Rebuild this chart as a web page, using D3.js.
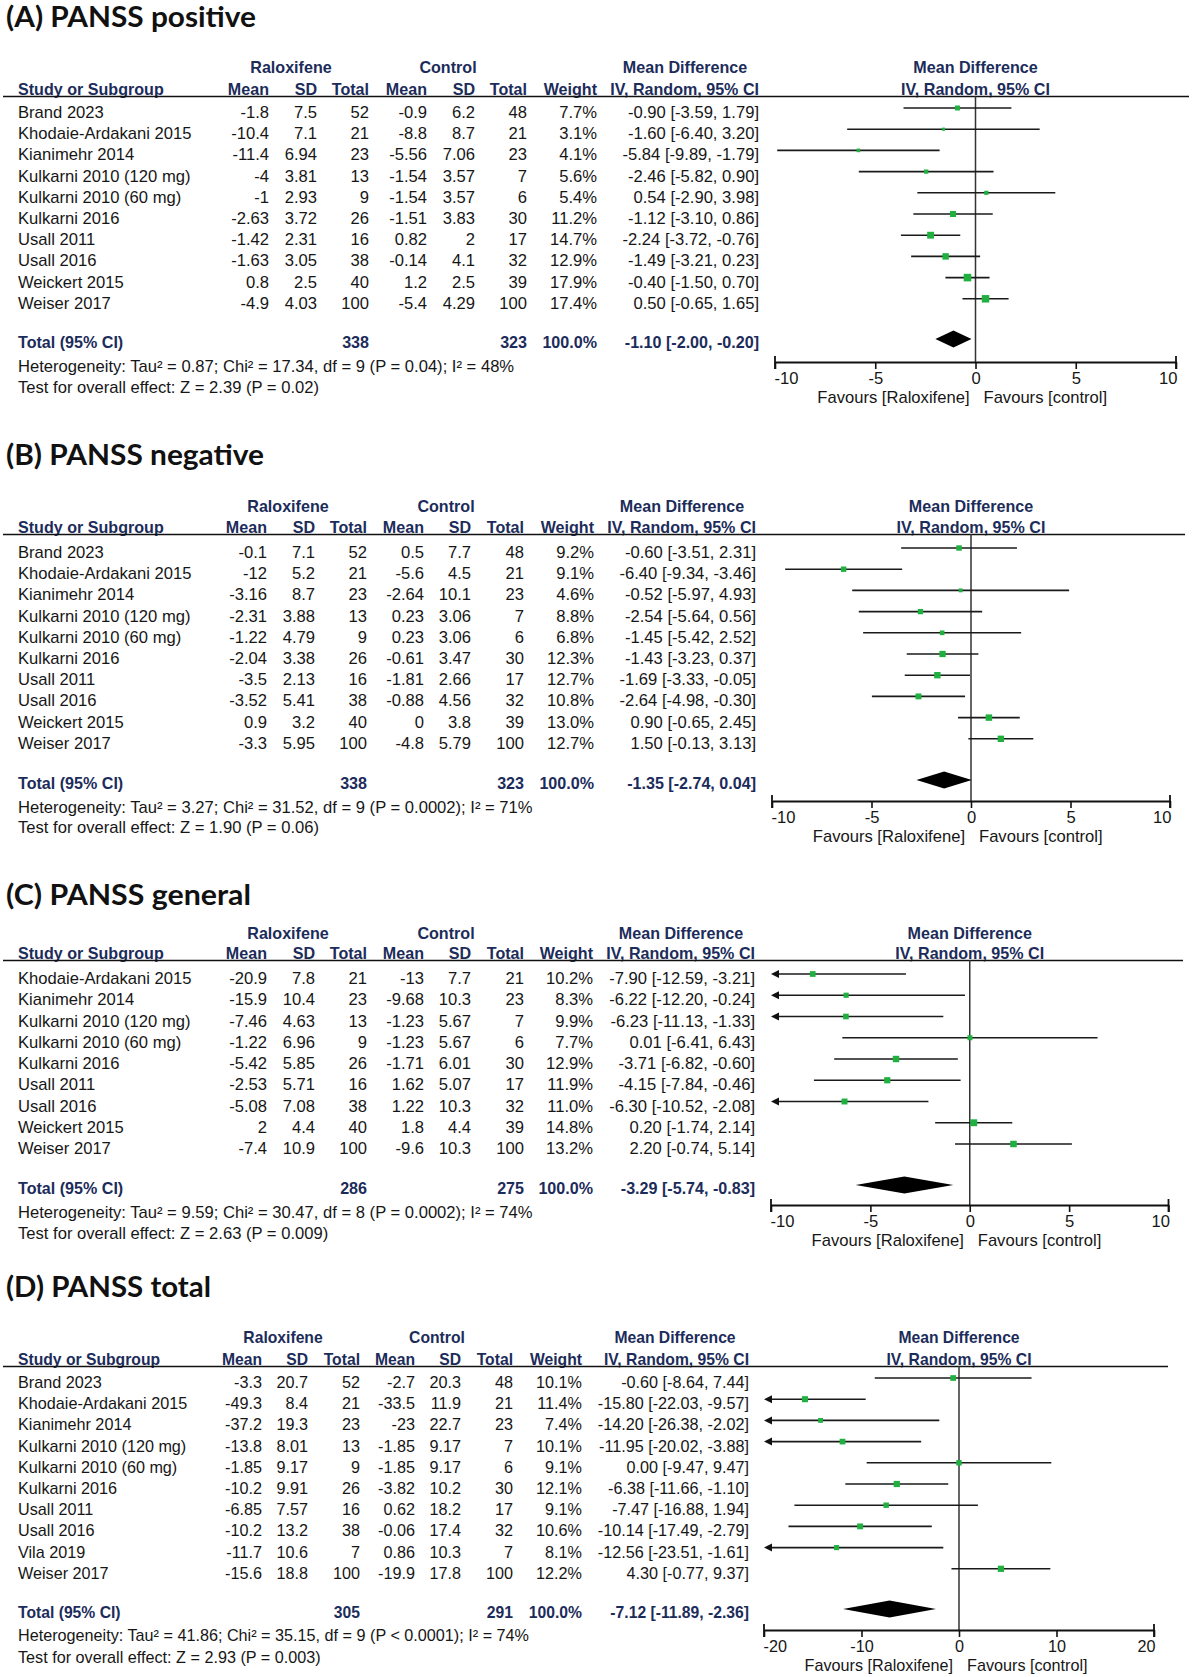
<!DOCTYPE html>
<html><head><meta charset="utf-8">
<script src="https://cdn.jsdelivr.net/npm/d3@7"></script>
<style>
html,body{margin:0;padding:0;background:#fff;}
svg{display:block;}
</style>
</head><body>
<div id="chart"></div>
<script>
// ---------------- DATA ----------------
// (A) PANSS positive
const posStudies = ["Brand 2023","Khodaie-Ardakani 2015","Kianimehr 2014","Kulkarni 2010 (120 mg)","Kulkarni 2010 (60 mg)","Kulkarni 2016","Usall 2011","Usall 2016","Weickert 2015","Weiser 2017"];
const posRalMean = [-1.8,-10.4,-11.4,-4,-1,-2.63,-1.42,-1.63,0.8,-4.9];
const posRalSD   = [7.5,7.1,6.94,3.81,2.93,3.72,2.31,3.05,2.5,4.03];
const posRalN    = [52,21,23,13,9,26,16,38,40,100];
const posCtlMean = [-0.9,-8.8,-5.56,-1.54,-1.54,-1.51,0.82,-0.14,1.2,-5.4];
const posCtlSD   = [6.2,8.7,7.06,3.57,3.57,3.83,2,4.1,2.5,4.29];
const posCtlN    = [48,21,23,7,6,30,17,32,39,100];
const posWeight  = [7.7,3.1,4.1,5.6,5.4,11.2,14.7,12.9,17.9,17.4];
const posMD      = [-0.90,-1.60,-5.84,-2.46,0.54,-1.12,-2.24,-1.49,-0.40,0.50];
const posLo      = [-3.59,-6.40,-9.89,-5.82,-2.90,-3.10,-3.72,-3.21,-1.50,-0.65];
const posHi      = [1.79,3.20,-1.79,0.90,3.98,0.86,-0.76,0.23,0.70,1.65];
const posTotal   = {ralN:338, ctlN:323, md:-1.10, lo:-2.00, hi:-0.20};
const posHet     = "Heterogeneity: Tau\u00b2 = 0.87; Chi\u00b2 = 17.34, df = 9 (P = 0.04); I\u00b2 = 48%";
const posTest    = "Test for overall effect: Z = 2.39 (P = 0.02)";

// (B) PANSS negative
const negStudies = ["Brand 2023","Khodaie-Ardakani 2015","Kianimehr 2014","Kulkarni 2010 (120 mg)","Kulkarni 2010 (60 mg)","Kulkarni 2016","Usall 2011","Usall 2016","Weickert 2015","Weiser 2017"];
const negRalMean = [-0.1,-12,-3.16,-2.31,-1.22,-2.04,-3.5,-3.52,0.9,-3.3];
const negRalSD   = [7.1,5.2,8.7,3.88,4.79,3.38,2.13,5.41,3.2,5.95];
const negRalN    = [52,21,23,13,9,26,16,38,40,100];
const negCtlMean = [0.5,-5.6,-2.64,0.23,0.23,-0.61,-1.81,-0.88,0,-4.8];
const negCtlSD   = [7.7,4.5,10.1,3.06,3.06,3.47,2.66,4.56,3.8,5.79];
const negCtlN    = [48,21,23,7,6,30,17,32,39,100];
const negWeight  = [9.2,9.1,4.6,8.8,6.8,12.3,12.7,10.8,13.0,12.7];
const negMD      = [-0.60,-6.40,-0.52,-2.54,-1.45,-1.43,-1.69,-2.64,0.90,1.50];
const negLo      = [-3.51,-9.34,-5.97,-5.64,-5.42,-3.23,-3.33,-4.98,-0.65,-0.13];
const negHi      = [2.31,-3.46,4.93,0.56,2.52,0.37,-0.05,-0.30,2.45,3.13];
const negTotal   = {ralN:338, ctlN:323, md:-1.35, lo:-2.74, hi:0.04};
const negHet     = "Heterogeneity: Tau\u00b2 = 3.27; Chi\u00b2 = 31.52, df = 9 (P = 0.0002); I\u00b2 = 71%";
const negTest    = "Test for overall effect: Z = 1.90 (P = 0.06)";

// (C) PANSS general
const genStudies = ["Khodaie-Ardakani 2015","Kianimehr 2014","Kulkarni 2010 (120 mg)","Kulkarni 2010 (60 mg)","Kulkarni 2016","Usall 2011","Usall 2016","Weickert 2015","Weiser 2017"];
const genRalMean = [-20.9,-15.9,-7.46,-1.22,-5.42,-2.53,-5.08,2,-7.4];
const genRalSD   = [7.8,10.4,4.63,6.96,5.85,5.71,7.08,4.4,10.9];
const genRalN    = [21,23,13,9,26,16,38,40,100];
const genCtlMean = [-13,-9.68,-1.23,-1.23,-1.71,1.62,1.22,1.8,-9.6];
const genCtlSD   = [7.7,10.3,5.67,5.67,6.01,5.07,10.3,4.4,10.3];
const genCtlN    = [21,23,7,6,30,17,32,39,100];
const genWeight  = [10.2,8.3,9.9,7.7,12.9,11.9,11.0,14.8,13.2];
const genMD      = [-7.90,-6.22,-6.23,0.01,-3.71,-4.15,-6.30,0.20,2.20];
const genLo      = [-12.59,-12.20,-11.13,-6.41,-6.82,-7.84,-10.52,-1.74,-0.74];
const genHi      = [-3.21,-0.24,-1.33,6.43,-0.60,-0.46,-2.08,2.14,5.14];
const genTotal   = {ralN:286, ctlN:275, md:-3.29, lo:-5.74, hi:-0.83};
const genHet     = "Heterogeneity: Tau\u00b2 = 9.59; Chi\u00b2 = 30.47, df = 8 (P = 0.0002); I\u00b2 = 74%";
const genTest    = "Test for overall effect: Z = 2.63 (P = 0.009)";

// (D) PANSS total
const totStudies = ["Brand 2023","Khodaie-Ardakani 2015","Kianimehr 2014","Kulkarni 2010 (120 mg)","Kulkarni 2010 (60 mg)","Kulkarni 2016","Usall 2011","Usall 2016","Vila 2019","Weiser 2017"];
const totRalMean = [-3.3,-49.3,-37.2,-13.8,-1.85,-10.2,-6.85,-10.2,-11.7,-15.6];
const totRalSD   = [20.7,8.4,19.3,8.01,9.17,9.91,7.57,13.2,10.6,18.8];
const totRalN    = [52,21,23,13,9,26,16,38,7,100];
const totCtlMean = [-2.7,-33.5,-23,-1.85,-1.85,-3.82,0.62,-0.06,0.86,-19.9];
const totCtlSD   = [20.3,11.9,22.7,9.17,9.17,10.2,18.2,17.4,10.3,17.8];
const totCtlN    = [48,21,23,7,6,30,17,32,7,100];
const totWeight  = [10.1,11.4,7.4,10.1,9.1,12.1,9.1,10.6,8.1,12.2];
const totMD      = [-0.60,-15.80,-14.20,-11.95,0.00,-6.38,-7.47,-10.14,-12.56,4.30];
const totLo      = [-8.64,-22.03,-26.38,-20.02,-9.47,-11.66,-16.88,-17.49,-23.51,-0.77];
const totHi      = [7.44,-9.57,-2.02,-3.88,9.47,-1.10,1.94,-2.79,-1.61,9.37];
const totTotal   = {ralN:305, ctlN:291, md:-7.12, lo:-11.89, hi:-2.36};
const totHet     = "Heterogeneity: Tau\u00b2 = 41.86; Chi\u00b2 = 35.15, df = 9 (P < 0.0001); I\u00b2 = 74%";
const totTest    = "Test for overall effect: Z = 2.93 (P = 0.003)";

const titles = ["(A) PANSS positive","(B) PANSS negative","(C) PANSS general","(D) PANSS total"];
const tickSmall = [-10,-5,0,5,10];
const tickLarge = [-20,-10,0,10,20];

// ---------------- LAYOUT ----------------
const W = 1194, H = 1677;
const NAVY = "#1c2c5a";
const INK = "#161616";
const GREEN = "#1fb040";
const FONT = "'Liberation Sans', Arial, sans-serif";

const layouts = [
  {title:17, titleW:250, h1:67, h2:89, ul:96, row0:112, step:21.2, total:342, het:366, test:387,
   axisY:362, domain:[-10,10], range:[775,1176], ticks:tickSmall,
   cols:[18,269,317,369,427,475,527,597,759], ralC:291, ctlC:448, ulR:1189, fs:16.6},
  {title:455, titleW:258, h1:506, h2:527, ul:534, row0:552, step:21.2, total:783, het:807, test:827,
   axisY:801, domain:[-10,10], range:[772,1170], ticks:tickSmall,
   cols:[18,267,315,367,424,471,524,594,756], ralC:288, ctlC:446, ulR:1185, fs:16.6},
  {title:895, titleW:245, h1:933, h2:953, ul:960, row0:978, step:21.25, total:1188, het:1212, test:1233,
   axisY:1205, domain:[-10,10], range:[771,1168.5], ticks:tickSmall,
   cols:[18,267,315,367,424,471,524,593,755], ralC:288, ctlC:446, ulR:1183, fs:16.6},
  {title:1287, titleW:205, h1:1337, h2:1359, ul:1366, row0:1382, step:21.2, total:1612, het:1635, test:1657,
   axisY:1630, domain:[-20,20], range:[764,1154], ticks:tickLarge,
   cols:[18,262,308,360,415,461,513,582,749], ralC:283, ctlC:437, ulR:1168, fs:16.2}
];

const panels = [
  {studies:posStudies, rm:posRalMean, rs:posRalSD, rn:posRalN, cm:posCtlMean, cs:posCtlSD, cn:posCtlN, w:posWeight, md:posMD, lo:posLo, hi:posHi, tot:posTotal, het:posHet, test:posTest},
  {studies:negStudies, rm:negRalMean, rs:negRalSD, rn:negRalN, cm:negCtlMean, cs:negCtlSD, cn:negCtlN, w:negWeight, md:negMD, lo:negLo, hi:negHi, tot:negTotal, het:negHet, test:negTest},
  {studies:genStudies, rm:genRalMean, rs:genRalSD, rn:genRalN, cm:genCtlMean, cs:genCtlSD, cn:genCtlN, w:genWeight, md:genMD, lo:genLo, hi:genHi, tot:genTotal, het:genHet, test:genTest},
  {studies:totStudies, rm:totRalMean, rs:totRalSD, rn:totRalN, cm:totCtlMean, cs:totCtlSD, cn:totCtlN, w:totWeight, md:totMD, lo:totLo, hi:totHi, tot:totTotal, het:totHet, test:totTest}
];

const svg = d3.select("#chart").append("svg")
  .attr("width", W).attr("height", H)
  .attr("viewBox", `0 0 ${W} ${H}`);
svg.append("rect").attr("width", W).attr("height", H).attr("fill", "#fff");

const sizeScale = d3.scaleSqrt().domain([0, 20]).range([0, 8]);
const f2 = v => v.toFixed(2);
const ciText = (m, l, h) => `${f2(m)} [${f2(l)}, ${f2(h)}]`;

panels.forEach((p, k) => {
  const L = layouts[k];
  const g = svg.append("g");
  const fs = L.fs;
  const hfs = fs - 0.5;
  const x = d3.scaleLinear().domain(L.domain).range(L.range);
  const x0 = x(0);

  // Title
  g.append("text").attr("x", 6).attr("y", L.title + 10)
    .attr("font-family", "Lato, 'Open Sans', sans-serif").attr("font-weight", 700)
    .attr("font-size", 28.5).attr("fill", "#111")
    .attr("textLength", L.titleW).attr("lengthAdjust", "spacingAndGlyphs")
    .text(titles[k]);

  const txt = (xx, yy, s, anchor, opts = {}) =>
    g.append("text").attr("x", xx).attr("y", yy)
      .attr("text-anchor", anchor || "start")
      .attr("font-family", FONT)
      .attr("font-size", opts.size || fs)
      .attr("font-weight", opts.bold ? 700 : 400)
      .attr("fill", opts.color || INK)
      .text(s);

  const c = L.cols;
  // Header row 1
  const h1b = L.h1 + 6;
  txt(L.ralC, h1b, "Raloxifene", "middle", {bold:true, color:NAVY, size:hfs});
  txt(L.ctlC, h1b, "Control", "middle", {bold:true, color:NAVY, size:hfs});
  const ivLeftC = c[8] - 74;
  txt(ivLeftC, h1b, "Mean Difference", "middle", {bold:true, color:NAVY, size:hfs});
  txt(x0, h1b, "Mean Difference", "middle", {bold:true, color:NAVY, size:hfs});
  // Header row 2
  const h2b = L.ul - 1;
  txt(c[0], h2b, "Study or Subgroup", "start", {bold:true, color:NAVY, size:hfs});
  txt(c[1], h2b, "Mean", "end", {bold:true, color:NAVY, size:hfs});
  txt(c[2], h2b, "SD", "end", {bold:true, color:NAVY, size:hfs});
  txt(c[3], h2b, "Total", "end", {bold:true, color:NAVY, size:hfs});
  txt(c[4], h2b, "Mean", "end", {bold:true, color:NAVY, size:hfs});
  txt(c[5], h2b, "SD", "end", {bold:true, color:NAVY, size:hfs});
  txt(c[6], h2b, "Total", "end", {bold:true, color:NAVY, size:hfs});
  txt(c[7], h2b, "Weight", "end", {bold:true, color:NAVY, size:hfs});
  txt(c[8], h2b, "IV, Random, 95% CI", "end", {bold:true, color:NAVY, size:hfs});
  txt(x0, h2b, "IV, Random, 95% CI", "middle", {bold:true, color:NAVY, size:hfs});

  // Underline
  g.append("line").attr("x1", 3).attr("x2", L.ulR).attr("y1", L.ul + 0.5).attr("y2", L.ul + 0.5)
    .attr("stroke", "#111").attr("stroke-width", 1.6);

  // Zero line
  g.append("line").attr("x1", x0).attr("x2", x0).attr("y1", L.ul).attr("y2", L.axisY)
    .attr("stroke", "#333").attr("stroke-width", 1.5);

  // Study rows
  p.studies.forEach((s, i) => {
    const yc = L.row0 + i * L.step;
    const yb = yc + 6;
    txt(c[0], yb, s, "start");
    txt(c[1], yb, String(p.rm[i]), "end");
    txt(c[2], yb, String(p.rs[i]), "end");
    txt(c[3], yb, String(p.rn[i]), "end");
    txt(c[4], yb, String(p.cm[i]), "end");
    txt(c[5], yb, String(p.cs[i]), "end");
    txt(c[6], yb, String(p.cn[i]), "end");
    txt(c[7], yb, p.w[i].toFixed(1) + "%", "end");
    txt(c[8], yb, ciText(p.md[i], p.lo[i], p.hi[i]), "end");

    const yl = yc - 4;
    const dmin = L.domain[0], dmax = L.domain[1];
    const clipL = p.lo[i] < dmin, clipR = p.hi[i] > dmax;
    const xl = x(Math.max(p.lo[i], dmin)), xr = x(Math.min(p.hi[i], dmax));
    g.append("line").attr("x1", clipL ? xl + 6 : xl).attr("x2", clipR ? xr - 6 : xr)
      .attr("y1", yl).attr("y2", yl).attr("stroke", "#1a1a1a").attr("stroke-width", 1.6);
    if (clipL) {
      g.append("path").attr("d", `M${xl},${yl} L${xl + 8},${yl - 4} L${xl + 8},${yl + 4} Z`).attr("fill", "#111");
    }
    if (clipR) {
      g.append("path").attr("d", `M${xr},${yl} L${xr - 8},${yl - 4} L${xr - 8},${yl + 4} Z`).attr("fill", "#111");
    }
    const sz = sizeScale(p.w[i]);
    g.append("rect").attr("x", x(p.md[i]) - sz / 2).attr("y", yl - sz / 2)
      .attr("width", sz).attr("height", sz).attr("fill", GREEN);
  });

  // Total row
  const tb = L.total + 6;
  txt(c[0], tb, "Total (95% CI)", "start", {bold:true, color:NAVY, size:hfs});
  txt(c[3], tb, String(p.tot.ralN), "end", {bold:true, color:NAVY, size:hfs});
  txt(c[6], tb, String(p.tot.ctlN), "end", {bold:true, color:NAVY, size:hfs});
  txt(c[7], tb, "100.0%", "end", {bold:true, color:NAVY, size:hfs});
  txt(c[8], tb, ciText(p.tot.md, p.tot.lo, p.tot.hi), "end", {bold:true, color:NAVY, size:hfs});
  const yd = L.total - 3;
  g.append("path")
    .attr("d", `M${x(p.tot.lo)},${yd} L${x(p.tot.md)},${yd - 8.5} L${x(p.tot.hi)},${yd} L${x(p.tot.md)},${yd + 8.5} Z`)
    .attr("fill", "#000");

  txt(c[0], L.het + 6, p.het, "start");
  txt(c[0], L.test + 6, p.test, "start");

  // Axis
  const axis = d3.axisBottom(x).tickValues(L.ticks).tickSizeInner(7).tickSizeOuter(0).tickPadding(3)
    .tickFormat(d => String(d));
  const ag = g.append("g").attr("transform", `translate(0,${L.axisY})`).call(axis);
  ag.select(".domain").attr("stroke", "#111").attr("stroke-width", 2);
  ag.selectAll(".tick line").attr("stroke", "#111").attr("stroke-width", 1.6);
  ag.selectAll(".tick text").attr("font-family", FONT).attr("font-size", fs).attr("fill", INK)
    .attr("text-anchor", (d, i, n) => i === 0 ? "start" : (i === n.length - 1 ? "end" : "middle"))
    .attr("dx", (d, i, n) => i === 0 ? -1 : (i === n.length - 1 ? 1 : 0));
  // end caps
  [L.domain[0], L.domain[1]].forEach(v => {
    ag.append("line").attr("x1", x(v)).attr("x2", x(v)).attr("y1", -6).attr("y2", 7)
      .attr("stroke", "#111").attr("stroke-width", 1.8);
  });

  const fb = L.axisY + 41;
  txt(x0 - 6, fb, "Favours [Raloxifene]", "end");
  txt(x0 + 8, fb, "Favours [control]", "start");
});
</script>
</body></html>
